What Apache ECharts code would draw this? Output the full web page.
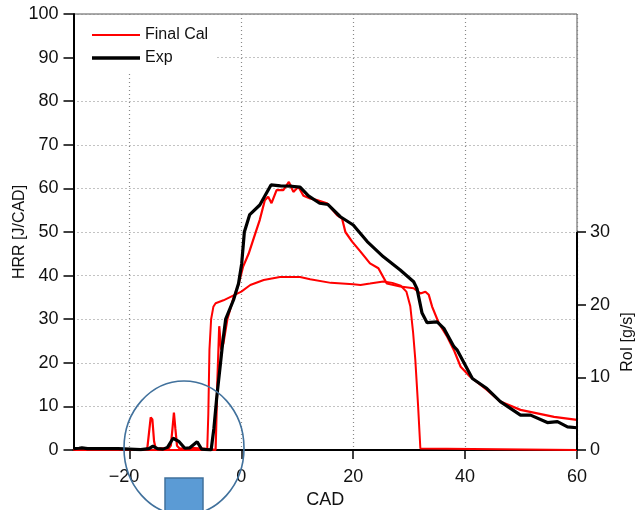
<!DOCTYPE html>
<html><head><meta charset="utf-8">
<script src="https://cdn.jsdelivr.net/npm/echarts@6/dist/echarts.min.js"></script>
<style>html,body{margin:0;padding:0;background:#fff}#c{width:638px;height:510px}</style>
</head><body><div id="c"></div>
<script>
// ---- data (CAD, value) ----
const xTicks = [-20, 0, 20, 40, 60];
const roiTicks = [0, 10, 20, 30];
const legendNames = ['Final Cal', 'Exp'];

// Final Cal heat release rate [J/CAD]
const finalCal = [
  [-30,0],[-17,0],[-16.8,0.5],[-16.5,4],[-16.2,7.5],[-15.9,7],[-15.6,2],[-15.3,0.3],[-14,0.4],[-13,0.3],
  [-12.6,1],[-12.3,5],[-12.05,8.6],[-11.8,5],[-11.5,1],[-11,0.3],[-9,0.5],[-7,0.3],[-5,0.1],[-4.6,0],
  [-4.3,15],[-3.95,28.4],[-3.6,23],[-3.2,24.5],[-2.5,30],[-1.5,34.5],[-0.5,38],[0.3,42],[1.3,45],[2.5,49.7],
  [3.3,52.8],[4.2,57.3],[4.8,58.1],[5.4,56.6],[6.3,59.6],[7.5,59.6],[8.5,61.5],[9.3,59.2],[10.2,60.4],[11.1,58.3],
  [12.3,57.7],[13.5,57.3],[15.3,56.6],[17.1,53.9],[18,53.1],[18.6,50],[19.8,47.8],[21.3,45.5],[23,42.8],[24.5,41.7],
  [26,38.2],[28.4,37.5],[30.8,37.1],[32,35.9],[32.9,36.3],[33.5,35.6],[34.1,32.9],[35.3,29.1],[36.8,26],[38,22.9],
  [39.2,19.1],[40.9,16.8],[43.9,13.8],[46.3,11.1],[49.9,9.2],[55.9,7.6],[60,6.9]
];
// Experimental heat release rate [J/CAD]
const expData = [
  [-30,0.3],[-29,0.4],[-28.5,0.5],[-27.5,0.3],[-26,0.3],[-22,0.3],[-20,0.2],[-18,0.1],[-16.5,0.3],[-15.8,0.9],
  [-15,0.3],[-14,0.2],[-13.2,0.6],[-12.2,2.7],[-11.2,2.0],[-10.1,0.4],[-9.2,0.5],[-7.9,1.9],[-7.1,0.2],[-5.4,0],
  [-4.9,5],[-4.4,12],[-3.8,19],[-3.3,25],[-2.8,30],[-1.4,34.4],[-0.5,38.2],[0.07,42.8],[0.54,50],[1.5,54],
  [3.3,56.2],[4.3,58.5],[5.3,60.8],[7,60.6],[9,60.5],[10.5,60.3],[12,58.3],[14,56.6],[15.5,56.3],[17.7,53.5],
  [20,51.6],[22.5,47.8],[25.4,44.3],[28.4,41.3],[30.8,38.6],[31.4,37],[32.3,31.4],[33.2,29.2],[35,29.4],[36.2,27.9],
  [38,23.7],[38.6,22.9],[41.3,16.4],[43.9,14.1],[46.3,11.1],[49.9,8.0],[51.7,8.0],[54.7,6.3],[56.5,6.5],[58.3,5.3],[60,5.1]
];
// Rate of injection [g/s]
const roiData = [
  [-30,0],[-6.1,0],[-5.9,5],[-5.7,13.8],[-5.4,18],[-5.0,19.7],[-4.6,20.2],[-3.2,20.6],[0,21.8],[1.6,22.7],
  [4,23.4],[6.9,23.8],[10.5,23.8],[12.3,23.5],[16,23.0],[20,22.8],[21.3,22.7],[23,22.9],[25.4,23.2],[27,23.0],
  [28.5,22.6],[29.5,21.8],[30.2,19.8],[30.7,16.2],[31.1,12.4],[31.6,6],[32,0.2],[32.3,0],[60,0]
];

const font = '"Liberation Sans", Arial, Helvetica, sans-serif';
const txt = '#111';
const minus = v => String(v).replace('-', '\u2212');

const chart = echarts.init(document.getElementById('c'), null, {renderer: 'canvas'});
chart.setOption({
  animation: false,
  grid: {left: 73.5, right: 61, top: 14, bottom: 60, show: true, borderColor: '#555', borderWidth: 1,
         containLabel: false, outerBoundsMode: 'none'},
  legend: {
    data: [
      {name: legendNames[0], icon: 'path://M0 0H48V2.2H0Z'},
      {name: legendNames[1], icon: 'path://M0 0H48V3.4H0Z'}
    ],
    orient: 'vertical', left: 76, top: 17,
    padding: [10, 8, 8, 16], backgroundColor: '#fff',
    itemWidth: 48, itemHeight: 14, itemGap: 7, symbolKeepAspect: true,
    textStyle: {fontSize: 16, color: txt, fontFamily: font}
  },
  xAxis: {
    type: 'value', min: -30, max: 60,
    name: 'CAD', nameLocation: 'middle', nameGap: 41, nameMoveOverlap: false,
    nameTextStyle: {fontSize: 18, color: txt, fontFamily: font},
    axisLine: {onZero: false, lineStyle: {color: '#000', width: 2}},
    axisTick: {customValues: xTicks, length: 9, lineStyle: {color: '#000', width: 1.5}},
    axisLabel: {
      customValues: xTicks, margin: 18, fontSize: 18, color: txt, fontFamily: font,
      formatter: v => v < 0 ? '{neg|' + minus(v) + '}' : String(v),
      rich: {neg: {fontSize: 18, color: txt, fontFamily: font, padding: [0, 11, 0, 0]}}
    },
    splitLine: {show: true, lineStyle: {color: '#888', type: [1, 3], width: 1.2}}
  },
  yAxis: [{
    type: 'value', min: 0, max: 100, interval: 10, position: 'left',
    name: 'HRR [J/CAD]', nameLocation: 'middle', nameGap: 46, nameMoveOverlap: false,
    nameTextStyle: {fontSize: 16, color: txt, fontFamily: font},
    axisLine: {show: true, onZero: false, lineStyle: {color: '#000', width: 2}},
    axisTick: {show: true, length: 10, lineStyle: {color: '#000', width: 1.5}},
    axisLabel: {margin: 15, fontSize: 18, color: txt, fontFamily: font},
    splitLine: {show: true, lineStyle: {color: '#888', type: [1, 3], width: 1.2}}
  }, {
    type: 'value', min: 0, max: 60, position: 'right',
    axisLine: {show: false, onZero: false},
    axisTick: {show: true, customValues: roiTicks, length: 9, lineStyle: {color: '#000', width: 1.5}},
    axisLabel: {customValues: roiTicks, margin: 13, fontSize: 18, color: txt, fontFamily: font},
    splitLine: {show: false}
  }],
  series: [{
    name: 'RoI', type: 'line', yAxisIndex: 1, data: roiData, symbol: 'none', clip: false,
    lineStyle: {color: '#ff0000', width: 2}, itemStyle: {color: '#ff0000'},
    markLine: {
      silent: true, symbol: ['none', 'none'], label: {show: false},
      lineStyle: {color: '#000', width: 2, type: 'solid'},
      data: [[{coord: [60, 0]}, {coord: [60, 30]}]]
    }
  }, {
    name: 'Final Cal', type: 'line', data: finalCal, symbol: 'none',
    lineStyle: {color: '#ff0000', width: 2.2}, itemStyle: {color: '#ff0000'}
  }, {
    name: 'Exp', type: 'line', data: expData, symbol: 'none',
    lineStyle: {color: '#000', width: 3.2}, itemStyle: {color: '#000'}
  }],
  graphic: [
    {type: 'ellipse', shape: {cx: 184, cy: 448, rx: 60, ry: 67},
     style: {fill: 'none', stroke: '#41719c', lineWidth: 1.6}, z: 100},
    {type: 'rect', shape: {x: 165, y: 478, width: 38, height: 40},
     style: {fill: '#5b9bd5', stroke: '#41719c', lineWidth: 1.5}, z: 101},
    {type: 'text', x: 628, y: 342, rotation: Math.PI / 2,
     style: {text: 'RoI [g/s]', font: '16px "Liberation Sans", Arial, sans-serif', fill: txt,
             align: 'center', verticalAlign: 'middle', textAlign: 'center', textVerticalAlign: 'middle'}, z: 100}
  ]
});
</script>
</body></html>
